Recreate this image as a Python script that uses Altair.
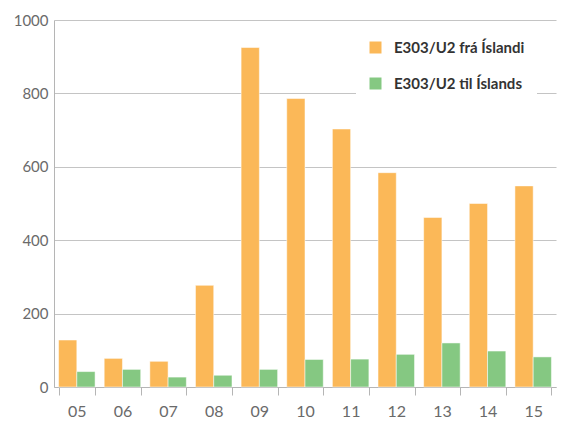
import altair as alt
import pandas as pd

years = ["05", "06", "07", "08", "09", "10", "11", "12", "13", "14", "15"]
fra_islandi = [128, 78, 70, 277, 925, 786, 703, 584, 462, 500, 548]
til_islands = [42, 48, 27, 32, 48, 75, 76, 89, 120, 98, 82]
series = ["E303/U2 frá Íslandi", "E303/U2 til Íslands"]
colors = ["#FBB858", "#85C882"]

rows = []
for i, y in enumerate(years):
    rows.append({"ar": y, "flokkur": series[0], "fjoldi": fra_islandi[i]})
    rows.append({"ar": y, "flokkur": series[1], "fjoldi": til_islands[i]})
df = pd.DataFrame(rows)

axis_font = "Lato"
legend_font = "Lato"

chart = alt.Chart(df).mark_bar(
    stroke="#ffffff", strokeWidth=1, strokeOpacity=0.5
).encode(
    x=alt.X(
        "ar:N",
        sort=years,
        scale=alt.Scale(paddingInner=0.2, paddingOuter=0.1),
        axis=alt.Axis(
            title=None, labelAngle=0, tickBand="extent", tickSize=8,
            tickColor="#b5b5b5", domainColor="#b5b5b5", labelColor="#6a6a6a",
            labelFont=axis_font, labelFontSize=16, labelPadding=8, grid=False,
        ),
    ),
    xOffset=alt.XOffset("flokkur:N", sort=series),
    y=alt.Y(
        "fjoldi:Q",
        scale=alt.Scale(domain=[0, 1000], nice=False),
        axis=alt.Axis(
            title=None, values=[0, 200, 400, 600, 800, 1000], ticks=False,
            format="d", labelPadding=6, labelColor="#6a6a6a", labelFont=axis_font,
            labelFontSize=15, domainColor="#b5b5b5", gridColor="#c4c4c4",
            gridWidth=1.2,
        ),
    ),
    color=alt.Color(
        "flokkur:N",
        sort=series,
        scale=alt.Scale(domain=series, range=colors),
        legend=alt.Legend(
            title=None, orient="none", legendX=302, legendY=8,
            symbolType="square", symbolSize=144, symbolStrokeWidth=0,
            labelFont=legend_font, labelFontSize=15, labelFontWeight="bold",
            labelColor="#333333", labelOffset=11, rowPadding=20,
            fillColor="#ffffff", padding=12, labelLimit=300,
        ),
    ),
).properties(
    width=553, height=416,
    autosize=alt.AutoSizeParams(type="fit", contains="padding"),
).configure_view(stroke=None)

chart.save("out.html", embed_options={"renderer": "svg", "actions": False})
